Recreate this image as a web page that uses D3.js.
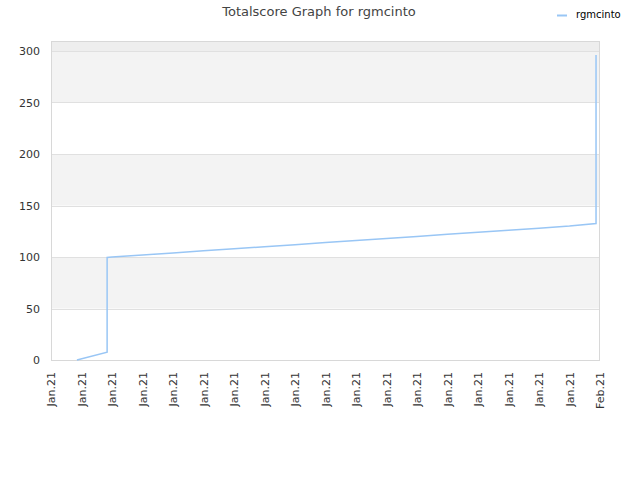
<!DOCTYPE html>
<html><head><meta charset="utf-8">
<script src="https://cdn.jsdelivr.net/npm/d3@7"></script>
<style>body{margin:0;background:#fff;}svg{display:block;font-family:"DejaVu Sans",sans-serif;}</style>
</head><body><svg id="c" width="640" height="480"></svg>
<script>
const title = "Totalscore Graph for rgmcinto";
const seriesName = "rgmcinto";
const tickLabels = ["Jan.21","Jan.21","Jan.21","Jan.21","Jan.21","Jan.21","Jan.21","Jan.21","Jan.21","Jan.21","Jan.21","Jan.21","Jan.21","Jan.21","Jan.21","Jan.21","Jan.21","Jan.21","Feb.21"];
const yTicks = [0,50,100,150,200,250,300];
// x positions in tick units (0 = first label, 18 = last)
const xs = [0.85, 1.84, 1.84, 1.84, 1.84, 1.84, 2, 3, 4, 5, 6, 7, 8, 9, 10, 11, 12, 13, 14, 15, 16, 17, 17.87, 17.87, 17.87, 17.87, 17.87];
const scores = [0, 7.5, 23, 43.5, 69.5, 99.5, 100, 102, 104, 106, 108, 110, 112, 114, 116, 118, 120, 122, 124, 126, 128, 130, 132.5, 168.5, 207.5, 250, 296];

const svg = d3.select("#c");
const L = 51, R = 600, T = 41, B = 360;
const x = d3.scaleLinear().domain([0, tickLabels.length - 1]).range([L, R]);
const y = d3.scaleLinear().domain([0, 300]).range([B, 51]);
const yTop = y.invert(T);

// bands
const bandEdges = [0,50,100,150,200,250,300,yTop];
for (let i = 0; i < bandEdges.length - 1; i++) {
  let fill = (i % 2 === 1) ? "#f3f3f3" : "#ffffff";
  if (i === bandEdges.length - 2) fill = "#eeeeee";
  svg.append("rect").attr("x", L).attr("width", R - L)
    .attr("y", y(bandEdges[i+1])).attr("height", y(bandEdges[i]) - y(bandEdges[i+1]))
    .attr("fill", fill);
}
// gridlines
svg.append("g").selectAll("line").data(yTicks.slice(1)).join("line")
  .attr("x1", L).attr("x2", R).attr("y1", d => Math.round(y(d)) + 0.5).attr("y2", d => Math.round(y(d)) + 0.5)
  .attr("stroke", "#e0e0e0").attr("stroke-width", 1);
// frame
svg.append("rect").attr("x", L + 0.5).attr("y", T + 0.5).attr("width", R - L - 1).attr("height", B - T)
  .attr("fill", "none").attr("stroke", "#d8d8d8");

// y axis labels
const yAxis = d3.axisLeft(y).tickValues(yTicks).tickSize(0).tickPadding(11);
const ga = svg.append("g").attr("transform", `translate(${L},0)`).call(yAxis);
ga.select(".domain").remove();
ga.selectAll("text").attr("font-size", 11).attr("fill", "#333").attr("font-family", "DejaVu Sans");

// x axis labels
const xAxis = d3.axisBottom(x).tickValues(d3.range(tickLabels.length)).tickFormat(i => tickLabels[i]).tickSize(0);
const gx = svg.append("g").attr("transform", `translate(0,${B})`).call(xAxis);
gx.select(".domain").remove();
gx.selectAll("text").attr("font-size", 11).attr("fill", "#333").attr("font-family", "DejaVu Sans")
  .attr("text-anchor", "end").attr("transform", "rotate(-90)").attr("x", -12).attr("y", 0).attr("dy", "0.35em");

// line
const pts = xs.map((v, i) => [v, scores[i]]);
svg.append("path").datum(pts)
  .attr("d", d3.line().x(d => x(d[0])).y(d => y(d[1])))
  .attr("fill", "none").attr("stroke", "#99c6f5").attr("stroke-width", 1.5);

// title
svg.append("text").attr("x", 319).attr("y", 16).attr("text-anchor", "middle")
  .attr("font-size", 13).attr("fill", "#444").text(title);
// legend
svg.append("line").attr("x1", 557).attr("x2", 567).attr("y1", 15.5).attr("y2", 15.5)
  .attr("stroke", "#99c6f5").attr("stroke-width", 2);
svg.append("text").attr("x", 576).attr("y", 18).attr("font-size", 10).attr("fill", "#000").text(seriesName);
</script></body></html>
